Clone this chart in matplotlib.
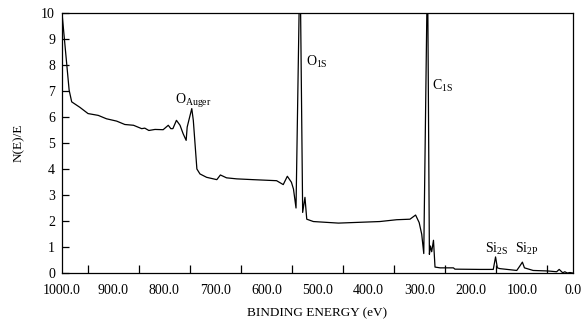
import matplotlib
matplotlib.use("Agg")
import matplotlib.pyplot as plt

plt.rcParams['font.family'] = ['Liberation Serif', 'DejaVu Serif']
plt.rcParams['mathtext.fontset'] = 'custom'
plt.rcParams['mathtext.rm'] = 'Liberation Serif'
plt.rcParams['mathtext.it'] = 'Liberation Serif:italic'

energy = [1000, 986, 981, 965, 949, 929, 913, 893, 877, 860, 844, 838, 830, 818, 802,
          792, 787, 783, 776, 769, 763, 757, 755, 751, 746, 743, 736, 730, 717, 697,
          690, 678, 658, 626, 580, 567, 559, 551, 547, 542, 536, 533, 529, 524.5, 521,
          508, 459, 378, 345, 319, 308, 301, 296, 292, 286, 284, 281, 279, 276.5, 273,
          270, 260, 234, 231, 182, 156, 151.5, 148, 143, 110, 104, 99, 95, 78, 49,
          32, 27, 20, 16, 11, 6, 0]
intensity = [10.0, 7.03, 6.58, 6.37, 6.13, 6.06, 5.93, 5.84, 5.71, 5.68, 5.55, 5.57, 5.48, 5.52, 5.51,
             5.68, 5.55, 5.55, 5.87, 5.68, 5.36, 5.10, 5.61, 5.93, 6.32, 5.87, 4.0, 3.81, 3.68, 3.59,
             3.77, 3.66, 3.62, 3.59, 3.55, 3.40, 3.72, 3.49, 3.23, 2.50, 10.0, 10.0, 2.33, 2.91, 2.07,
             1.98, 1.92, 1.98, 2.05, 2.07, 2.23, 1.94, 1.49, 0.75, 10.0, 10.0, 0.72, 1.04, 0.82, 1.26,
             0.23, 0.20, 0.20, 0.15, 0.14, 0.14, 0.62, 0.20, 0.17, 0.10, 0.27, 0.42, 0.20, 0.10, 0.08,
             0.05, 0.14, 0.01, 0.05, 0.0, 0.02, 0.0]

labels = [r"O$_{\mathrm{Auger}}$", r"O$_{\mathrm{1S}}$", r"C$_{\mathrm{1S}}$",
          r"Si$_{\mathrm{2S}}$", r"Si$_{\mathrm{2P}}$"]
label_x = [779, 522, 275, 172, 113]
label_y = [6.6, 8.1, 7.2, 0.93, 0.93]

x_ticks = [1000, 900, 800, 700, 600, 500, 400, 300, 200, 100, 0]
x_minor = [950, 850, 750, 650, 550, 450, 350, 250, 150, 50]
y_ticks = list(range(0, 11))

fig = plt.figure(figsize=(5.82, 3.22), dpi=100)
ax = fig.add_axes([0.1065, 0.152, 0.878, 0.808])
ax.plot(energy, intensity, color='black', lw=0.9)
ax.set_xlim(1000, 0)
ax.set_ylim(0, 10)
ax.set_xticks(x_ticks)
ax.set_xticklabels([f"{v:.1f}" for v in x_ticks])
ax.set_xticks(x_minor, minor=True)
ax.set_yticks(y_ticks)
ax.tick_params(axis='x', which='major', direction='in', length=0, labelsize=10, pad=8)
ax.tick_params(axis='x', which='minor', direction='in', length=6, width=0.9)
ax.tick_params(axis='y', direction='in', length=5, width=0.9, labelsize=10, pad=5)
for s in ax.spines.values():
    s.set_linewidth(0.9)

for t, x, y in zip(labels, label_x, label_y):
    ax.text(x, y, t, fontsize=10, ha='left', va='center')

ax.set_xlabel("BINDING ENERGY (eV)", fontsize=9.5, labelpad=7)
ax.set_ylabel("N(E)/E", fontsize=9.5, labelpad=12)

fig.savefig("out.png", dpi=100)
